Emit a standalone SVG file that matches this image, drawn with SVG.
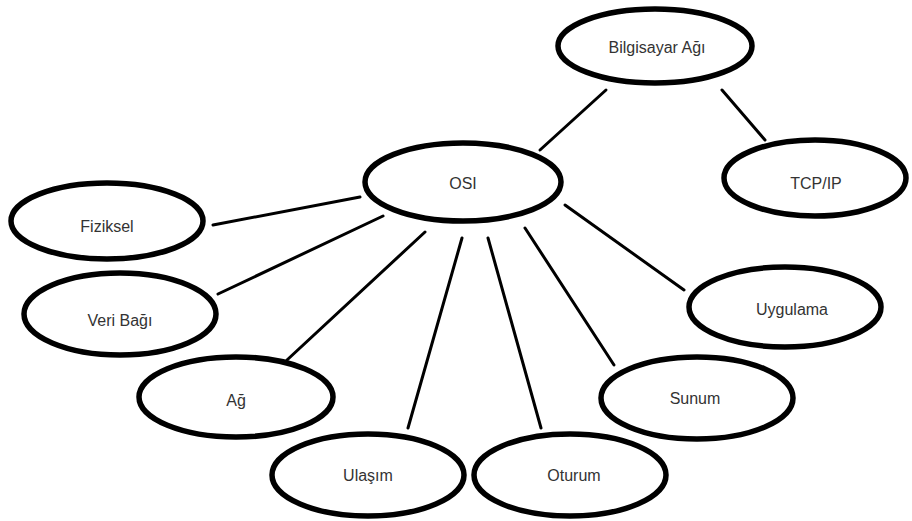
<svg xmlns="http://www.w3.org/2000/svg" width="912" height="521" viewBox="0 0 912 521">
  <style>
    .node ellipse { fill: #ffffff; stroke: #000000; stroke-width: 5.5; }
    .node text { font-family: "Liberation Sans", Arial, sans-serif; font-size: 16px; fill: #333333; text-anchor: middle; dominant-baseline: central; }
    #connectors line { stroke: #000000; stroke-width: 3; stroke-linecap: round; }
  </style>
  <rect width="912" height="521" fill="#ffffff"/>

  <g id="connectors">
    <line x1="606" y1="90" x2="540" y2="150"/>
    <line x1="722" y1="90" x2="765" y2="140"/>
    <line x1="360" y1="197" x2="213" y2="225"/>
    <line x1="383" y1="216" x2="218" y2="294"/>
    <line x1="425" y1="232" x2="287" y2="360"/>
    <line x1="462" y1="238" x2="408" y2="428"/>
    <line x1="488" y1="238" x2="541" y2="428"/>
    <line x1="525" y1="228" x2="614" y2="365"/>
    <line x1="565" y1="205" x2="684" y2="290"/>
  </g>

  <g id="bilgisayar-agi" class="node">
    <ellipse cx="655" cy="46" rx="97" ry="37"/>
    <text x="657" y="47">Bilgisayar Ağı</text>
  </g>
  <g id="tcp-ip" class="node">
    <ellipse cx="815" cy="178" rx="91" ry="38"/>
    <text x="816" y="183">TCP/IP</text>
  </g>
  <g id="osi" class="node">
    <ellipse cx="463" cy="182" rx="98" ry="39"/>
    <text x="463" y="183">OSI</text>
  </g>
  <g id="fiziksel" class="node">
    <ellipse cx="107" cy="221" rx="96" ry="38"/>
    <text x="107" y="226">Fiziksel</text>
  </g>
  <g id="veri-bagi" class="node">
    <ellipse cx="120" cy="314" rx="96" ry="41"/>
    <text x="120" y="320">Veri Bağı</text>
  </g>
  <g id="ag" class="node">
    <ellipse cx="236" cy="397" rx="97" ry="40"/>
    <text x="236" y="400">Ağ</text>
  </g>
  <g id="ulasim" class="node">
    <ellipse cx="368" cy="475" rx="96" ry="41"/>
    <text x="368" y="475">Ulaşım</text>
  </g>
  <g id="oturum" class="node">
    <ellipse cx="570" cy="475" rx="96" ry="41"/>
    <text x="574" y="475">Oturum</text>
  </g>
  <g id="sunum" class="node">
    <ellipse cx="697" cy="398" rx="96" ry="41"/>
    <text x="695" y="398">Sunum</text>
  </g>
  <g id="uygulama" class="node">
    <ellipse cx="785" cy="307" rx="96" ry="40"/>
    <text x="792" y="309">Uygulama</text>
  </g>
</svg>
